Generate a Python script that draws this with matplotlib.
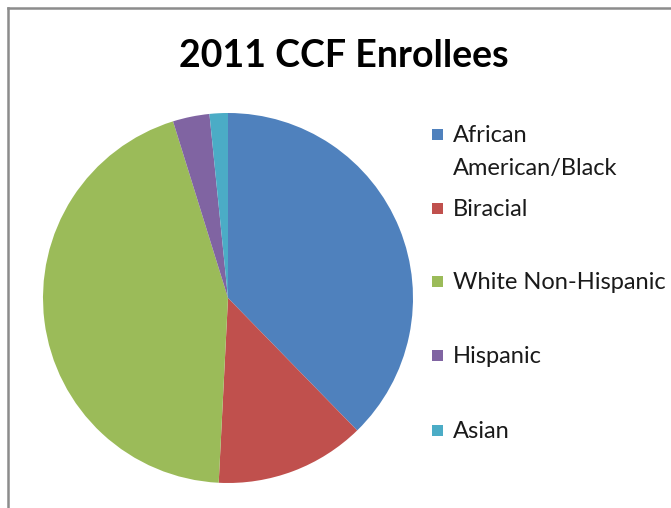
import matplotlib
matplotlib.use("Agg")
import matplotlib.pyplot as plt
from matplotlib.patches import Rectangle
from matplotlib.lines import Line2D

# Enrollment shares by group (percent)
groups = ["African\nAmerican/Black", "Biracial", "White Non-Hispanic", "Hispanic", "Asian"]
shares = [37.7, 13.1, 44.4, 3.2, 1.6]
colors = ["#4F81BD", "#C0504D", "#9BBB59", "#8064A2", "#4BACC6"]

W, H = 671, 508
fig = plt.figure(figsize=(W / 100, H / 100), dpi=100)

# chart area border (only left and top edges visible)
fig.add_artist(Line2D([7.5 / W, 7.5 / W], [0, 1 - 7.5 / H], color="#8c8c8c", lw=1.8,
                      transform=fig.transFigure))
fig.add_artist(Line2D([7.5 / W, 1], [1 - 7.5 / H, 1 - 7.5 / H], color="#8c8c8c", lw=1.8,
                      transform=fig.transFigure))

fig.text(344 / W, 1 - 56 / H, "2011 CCF Enrollees", ha="center", va="center",
         fontsize=27, fontweight="bold", family="Lato")

cx, cy, r = 228, 298, 185
ax = fig.add_axes([(cx - r) / W, 1 - (cy + r) / H, 2 * r / W, 2 * r / H])
ax.pie(shares, colors=colors, startangle=90, counterclock=False,
       wedgeprops={"linewidth": 0})
ax.set_xlim(-1, 1)
ax.set_ylim(-1, 1)
ax.set_aspect("equal")
ax.axis("off")

# legend drawn by hand so the square sits on the first text line
leg_y = [134, 208, 281, 355, 430]
for lab, col, y in zip(groups, colors, leg_y):
    fig.add_artist(Rectangle((432 / W, 1 - (y + 6) / H), 11 / W, 11 / H,
                             facecolor=col, edgecolor="none", transform=fig.transFigure))
    fig.text(453 / W, 1 - (y - 9) / H, lab, ha="left", va="top", fontsize=17,
             family="Lato", color="#1a1a1a", linespacing=1.7)

fig.savefig("out.png", dpi=100)
